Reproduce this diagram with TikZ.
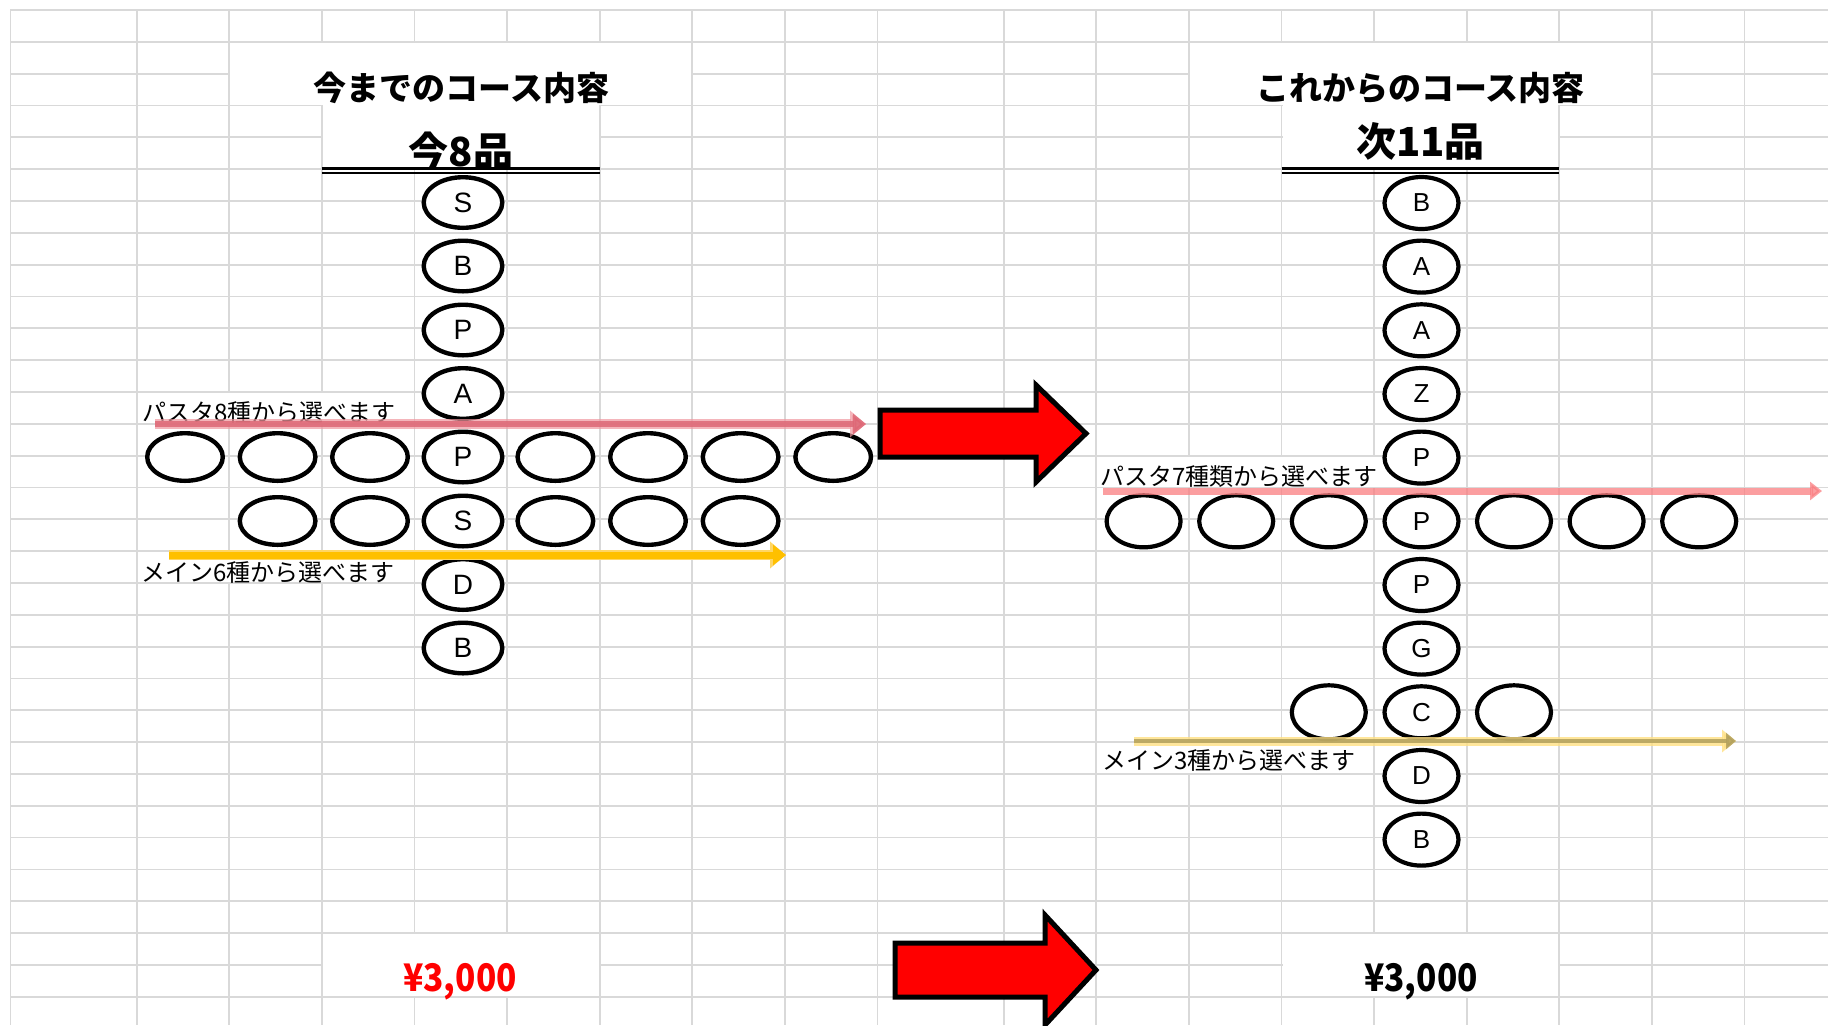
\documentclass[tikz,border=0pt]{standalone}
\usepackage{fontspec}
\setmainfont{Liberation Sans}
\newfontfamily\jp{Noto Sans CJK JP}
\usetikzlibrary{shapes.geometric,arrows.meta,shadows}
\definecolor{gridc}{RGB}{217,217,217}
\definecolor{pinkout}{RGB}{240,150,158}
\definecolor{pinkcore}{RGB}{222,104,118}
\definecolor{yelout}{RGB}{255,214,102}
\definecolor{yelcore}{RGB}{255,192,0}
\definecolor{rpink}{RGB}{250,125,128}
\definecolor{oliveout}{RGB}{255,224,130}
\definecolor{olivecore}{RGB}{178,160,92}
\definecolor{bigred}{RGB}{255,0,0}
\begin{document}
\begin{tikzpicture}[x=0.5pt,y=-0.5pt,
  gridl/.style={draw=gridc,line width=0.9pt},
  blank/.style={fill=white,draw=none},
  ellL/.style={ellipse,draw=black,line width=2.2pt,fill=white,inner sep=0pt,
     minimum width=39.3pt,minimum height=25.3pt,font=\fontsize{14}{14}\selectfont,
     drop shadow={shadow xshift=0.5pt,shadow yshift=-0.7pt,opacity=1,fill=black}},
  ellLs/.style={ellL,minimum width=37.8pt,minimum height=23.8pt},
  ellR/.style={ellipse,draw=black,line width=2.1pt,fill=white,inner sep=0pt,
     minimum width=37pt,minimum height=26pt,font=\fontsize{13}{13}\selectfont},
  ellRc/.style={ellR,minimum height=27pt},
  ttl/.style={font=\jp\bfseries\fontsize{16.5}{16.5}\selectfont,inner sep=0pt},
  cnt/.style={font=\jp\bfseries\fontsize{20}{20}\selectfont,inner sep=0pt},
  lab/.style={font=\jp\fontsize{12}{12}\selectfont,inner sep=0pt,anchor=west},
  price/.style={font=\jp\bfseries\fontsize{19}{19}\selectfont,inner sep=0pt},
  bigarrow/.style={fill=bigred,draw=black,line width=2.5pt,line join=miter},
]
\useasboundingbox (0,0) rectangle (1828,1025);
\clip (0,0) rectangle (1828,1025);
% ---------- grid ----------
\foreach \k in {0,...,31} \draw[gridl] (10,{10+31.83*\k}) -- (1828,{10+31.83*\k});
\foreach \x in {10.5,136.7,229.3,321.9,414.5,507.1,599.7,692.3,784.9,877.5,
  1003.7,1096.3,1188.9,1281.5,1374.1,1466.7,1559.3,1651.9,1744.5}
  \draw[gridl] (\x,10) -- (\x,1025);
% ---------- merged / overflow cells ----------
\fill[blank] (230.3,42.8) rectangle (691.3,104.5);
\fill[blank] (322.9,104) rectangle (598.7,168.2);
\fill[blank] (137.7,393) rectangle (400,422.8);
\fill[blank] (137.7,552.1) rectangle (400,581.9);
\fill[blank] (322.9,934.1) rectangle (598.7,995.7);
\fill[blank] (1189.9,42.8) rectangle (1650.9,104.5);
\fill[blank] (1282.5,104) rectangle (1558.3,168.2);
\fill[blank] (1097.3,456.6) rectangle (1386,486.5);
\fill[blank] (1097.3,743.1) rectangle (1360,772.9);
\fill[blank] (1282.5,934.1) rectangle (1558.3,995.7);
% ---------- titles ----------
\node[ttl] (t1) at (461.5,88) {今までのコース内容};
\node[cnt] (c1) at (461,151) {今8品};
\draw[line width=1.5pt] (321.9,168.3) -- (599.7,168.3);
\draw[line width=1pt] (321.9,172.6) -- (599.7,172.6);
\node[ttl] (t2) at (1420.6,88) {これからのコース内容};
\node[cnt] (c2) at (1420.6,141.5) {次11品};
\draw[line width=1.5pt] (1281.5,168.3) -- (1559.3,168.3);
\draw[line width=1pt] (1281.5,172.6) -- (1559.3,172.6);
% ---------- labels ----------
\node[lab] (lb1) at (142,412) {パスタ8種から選べます};
\node[lab] (lb2) at (141,572) {メイン6種から選べます};
\node[lab] (lb3) at (1100,476) {パスタ7種類から選べます};
\node[lab] (lb4) at (1102,760) {メイン3種から選べます};
% ---------- left course ----------
\node[ellL] (l1) at (463,202.5) {S};
\node[ellL] (l2) at (463,266) {B};
\node[ellL] (l3) at (463,330) {P};
\node[ellL] (l4) at (463,393.5) {A};
\node[ellL] (l5) at (463,457) {P};
\node[ellL] (l6) at (463,521) {S};
\node[ellL] (l7) at (463,584.5) {D};
\node[ellL] (l8) at (463,648) {B};
\foreach \x/\n in {185/1,277.6/2,370/3,555.4/5,648/6,740.6/7,833.2/8}
  \node[ellLs] (lp\n) at (\x,457) {};
\foreach \x/\n in {277.6/2,370/3,555.4/5,648/6,740.6/7}
  \node[ellLs] (lm\n) at (\x,521) {};
% ---------- right course ----------
\node[ellR] (r1) at (1421.5,203) {\raisebox{-1.5pt}{B}};
\node[ellR] (r2) at (1421.5,266.6) {\raisebox{-1.5pt}{A}};
\node[ellR] (r3) at (1421.5,330.3) {\raisebox{-1.5pt}{A}};
\node[ellR] (r4) at (1421.5,394) {\raisebox{-1.5pt}{Z}};
\node[ellR] (r5) at (1421.5,457.6) {\raisebox{-1.5pt}{P}};
\node[ellR] (r6) at (1421.5,521.3) {\raisebox{-1.5pt}{P}};
\node[ellR] (r7) at (1421.5,585) {\raisebox{-1.5pt}{P}};
\node[ellR] (r8) at (1421.5,648.6) {\raisebox{-1.5pt}{G}};
\node[ellR] (r9) at (1421.5,712.3) {\raisebox{-1.5pt}{C}};
\node[ellR] (r10) at (1421.5,776) {\raisebox{-1.5pt}{D}};
\node[ellR] (r11) at (1421.5,839.6) {\raisebox{-1.5pt}{B}};
\foreach \x/\n in {1143.6/1,1236.2/2,1328.8/3,1514/5,1606.6/6,1699.2/7}
  \node[ellR] (rp\n) at (\x,521.3) {};
\node[ellRc] (rc1) at (1328.8,712.3) {};
\node[ellRc] (rc3) at (1514,712.3) {};
% ---------- choice arrows ----------
\coordinate (lpa) at (155,424);  \coordinate (lpb) at (866,424);
\coordinate (lya) at (169,555);  \coordinate (lyb) at (786,555);
\coordinate (rpa) at (1103,491); \coordinate (rpb) at (1822,491);
\coordinate (rya) at (1134,741); \coordinate (ryb) at (1736,741);
\draw[pinkout,opacity=.7,line width=5pt,-{Triangle[length=8pt,width=13pt]}] (lpa) -- (lpb);
\draw[pinkcore,opacity=.85,line width=3pt,-{Triangle[length=6.5pt,width=10pt]}] (lpa) -- (lpb);
\draw[yelout,line width=5pt,-{Triangle[length=8pt,width=13pt]}] (lya) -- (lyb);
\draw[yelcore,line width=3.5pt,-{Triangle[length=6.5pt,width=10pt]}] (lya) -- (lyb);
\draw[rpink,opacity=.75,line width=3.5pt,-{Triangle[length=6pt,width=9pt]}] (rpa) -- (rpb);
\draw[oliveout,opacity=.8,line width=4.5pt,-{Triangle[length=7pt,width=11pt]}] (rya) -- (ryb);
\draw[olivecore,opacity=.85,line width=2pt,-{Triangle[length=5pt,width=8pt]}] (rya) -- (ryb);
% ---------- big arrows ----------
\draw[bigarrow] (880,410) -- (1036,410) -- (1036,385) -- (1086,433.5)
  -- (1036,482) -- (1036,457) -- (880,457) -- cycle;
\draw[bigarrow] (895,943) -- (1045,943) -- (1045,915) -- (1096,970)
  -- (1045,1025) -- (1045,997) -- (895,997) -- cycle;
% ---------- prices ----------
\node[price,text=bigred] (p1) at (460,982) {\scalebox{0.88}[1]{¥3,000}};
\node[price] (p2) at (1421,982) {\scalebox{0.88}[1]{¥3,000}};
\end{tikzpicture}
\end{document}
